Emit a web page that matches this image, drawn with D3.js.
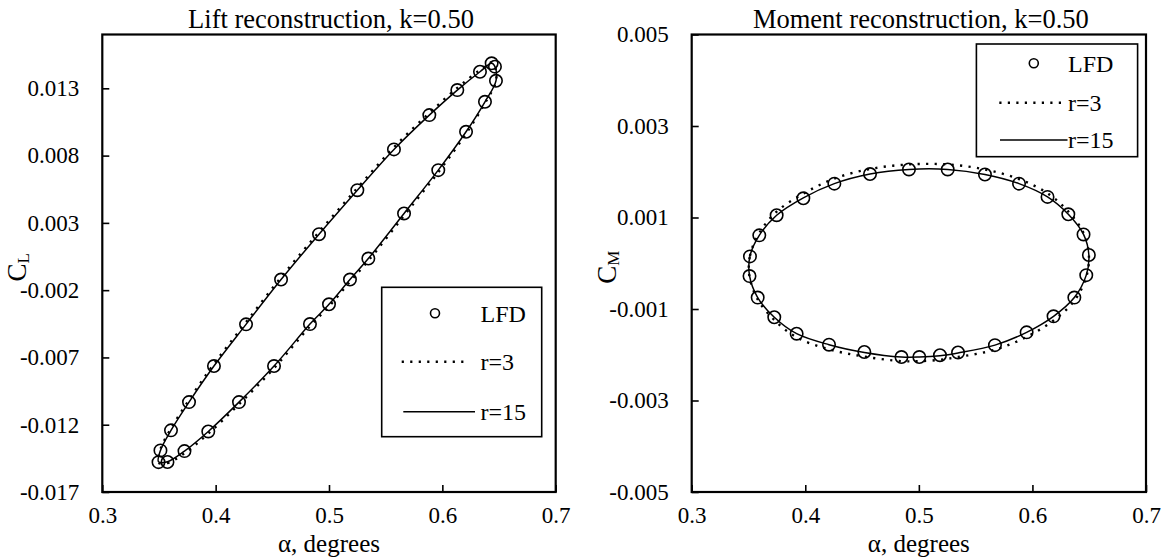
<!DOCTYPE html>
<html><head><meta charset="utf-8">
<script src="https://cdn.jsdelivr.net/npm/d3@7/dist/d3.min.js"></script>
<style>
body{margin:0;background:#fff}
text{font-family:"Liberation Serif","Times New Roman",serif;fill:#000}
</style>
</head><body>
<svg id="chart" width="1169" height="560"></svg>
<script>
// ---------- data ----------
const xTicks = [0.3, 0.4, 0.5, 0.6, 0.7];
const liftYTicks = [-0.017, -0.012, -0.007, -0.002, 0.003, 0.008, 0.013];
const momYTicks = [-0.005, -0.003, -0.001, 0.001, 0.003, 0.005];
const legendLabels = ["LFD", "r=3", "r=15"];

// Lift: angle of attack (deg) and CL
const liftAlpha = [0.3496,0.3575,0.3725,0.3935,0.4206,0.4515,0.4832,0.5000,0.5185,0.5347,0.5662,0.5964,0.6209,0.6376,0.6473,0.6464,0.6435,0.6332,0.6132,0.5885,0.5573,0.5250,0.4912,0.4577,0.4268,0.3985,0.3765,0.3606,0.3513];
const liftLFD = [-0.01478,-0.01477,-0.01396,-0.01250,-0.01032,-0.00764,-0.00452,-0.00305,-0.00121,0.00035,0.00370,0.00692,0.00977,0.01200,0.01356,0.01461,0.01486,0.01423,0.01287,0.01101,0.00846,0.00543,0.00216,-0.00121,-0.00454,-0.00764,-0.01032,-0.01242,-0.01391];
const liftR3 = [-0.01482,-0.01485,-0.01412,-0.01266,-0.01048,-0.00780,-0.00468,-0.00321,-0.00137,0.00019,0.00354,0.00676,0.00963,0.01190,0.01352,0.01462,0.01492,0.01437,0.01303,0.01117,0.00862,0.00559,0.00232,-0.00105,-0.00438,-0.00748,-0.01016,-0.01228,-0.01382];
const liftR15 = [-0.01476,-0.01475,-0.01396,-0.01250,-0.01032,-0.00764,-0.00452,-0.00305,-0.00121,0.00035,0.00370,0.00692,0.00977,0.01200,0.01356,0.01461,0.01486,0.01423,0.01287,0.01101,0.00846,0.00543,0.00216,-0.00121,-0.00454,-0.00764,-0.01032,-0.01242,-0.01391];

// Moment: angle of attack (deg) and CM
const momAlpha = [0.3509,0.3513,0.3595,0.3748,0.3983,0.4256,0.4570,0.4913,0.5254,0.5582,0.5882,0.6133,0.6316,0.6450,0.6497,0.6474,0.6369,0.6186,0.5949,0.5670,0.5345,0.5186,0.5004,0.4847,0.4520,0.4209,0.3924,0.3727,0.3581];
const momLFD = [-0.00028,0.00015,0.00061,0.00105,0.00142,0.00174,0.00195,0.00205,0.00205,0.00194,0.00174,0.00145,0.00107,0.00063,0.00018,-0.00026,-0.00075,-0.00116,-0.00151,-0.00179,-0.00195,-0.00201,-0.00205,-0.00205,-0.00194,-0.00178,-0.00154,-0.00118,-0.00075];
const momR3 = [-0.00030,0.00016,0.00066,0.00113,0.00152,0.00185,0.00206,0.00216,0.00216,0.00205,0.00184,0.00153,0.00113,0.00066,0.00018,-0.00030,-0.00082,-0.00125,-0.00161,-0.00189,-0.00205,-0.00211,-0.00214,-0.00214,-0.00204,-0.00188,-0.00162,-0.00124,-0.00079];
const momR15 = [-0.00027,0.00016,0.00061,0.00105,0.00143,0.00174,0.00195,0.00205,0.00205,0.00194,0.00174,0.00145,0.00107,0.00063,0.00018,-0.00026,-0.00075,-0.00116,-0.00151,-0.00179,-0.00196,-0.00202,-0.00205,-0.00205,-0.00195,-0.00178,-0.00154,-0.00118,-0.00075];

// ---------- drawing ----------
const svg = d3.select("#chart");
const TOP = 34.5, BOTTOM = 492;

function panel(opts){
  const x = d3.scaleLinear().domain([0.3, 0.7]).range([opts.left, opts.right]);
  const y = d3.scaleLinear().domain(opts.yDomain).range([BOTTOM, TOP]);
  const g = svg.append("g");

  // axes (inside ticks)
  const xa = g.append("g").attr("transform", `translate(0,${BOTTOM})`)
    .call(d3.axisBottom(x).tickValues(xTicks).tickSizeInner(-7).tickSizeOuter(0)
      .tickPadding(15).tickFormat(d => d.toFixed(1)));
  const ya = g.append("g").attr("transform", `translate(${opts.left},0)`)
    .call(d3.axisLeft(y).tickValues(opts.yTicks).tickSizeInner(-7).tickSizeOuter(0)
      .tickPadding(23).tickFormat(d => d.toFixed(3)));
  [xa, ya].forEach(a => {
    a.select(".domain").remove();
    a.selectAll(".tick line").attr("stroke", "#000").attr("stroke-width", 1.6);
    a.selectAll("text").style("font-size", "23px").attr("fill", "#000");
  });

  // frame
  g.append("rect").attr("x", opts.left).attr("y", TOP)
    .attr("width", opts.right - opts.left).attr("height", BOTTOM - TOP)
    .attr("fill", "none").attr("stroke", "#000").attr("stroke-width", 2.2);

  const line = d3.line().x(d => x(d[0])).y(d => y(d[1])).curve(d3.curveCatmullRomClosed.alpha(0.5));
  const pts = (ys) => opts.alpha.map((a, i) => [a, ys[i]]);

  g.append("path").attr("d", line(pts(opts.r3))).attr("fill", "none")
    .attr("stroke", "#000").attr("stroke-width", 2.4).attr("stroke-dasharray", "2.2,6.3");
  g.append("path").attr("d", line(pts(opts.r15))).attr("fill", "none")
    .attr("stroke", "#000").attr("stroke-width", 1.5);
  g.selectAll("circle.m").data(pts(opts.lfd)).join("circle").attr("class", "m")
    .attr("cx", d => x(d[0])).attr("cy", d => y(d[1])).attr("r", 6.2)
    .attr("fill", "none").attr("stroke", "#000").attr("stroke-width", 1.6);

  // title
  g.append("text").attr("x", (opts.left + opts.right) / 2 + 2).attr("y", 27.5)
    .attr("text-anchor", "middle").style("font-size", "26.5px").text(opts.title);
  // x label
  g.append("text").attr("x", (opts.left + opts.right) / 2).attr("y", 552)
    .attr("text-anchor", "middle").style("font-size", "25px").text("α, degrees");
  // y label with subscript
  const yl = g.append("text").attr("transform", `translate(${opts.left - 76},${(TOP + BOTTOM) / 2 + 4}) rotate(-90)`)
    .attr("text-anchor", "middle").style("font-size", "27px");
  yl.append("tspan").text("C");
  yl.append("tspan").attr("dy", 3).style("font-size", "17px").text(opts.sub);

  // legend
  const L = opts.legend;
  g.append("rect").attr("x", L.x).attr("y", L.y).attr("width", L.w).attr("height", L.h)
    .attr("fill", "#fff").attr("stroke", "#000").attr("stroke-width", 1.6);
  g.append("circle").attr("cx", L.cx).attr("cy", L.rows[0]).attr("r", 4.5)
    .attr("fill", "none").attr("stroke", "#000").attr("stroke-width", 1.6);
  g.append("line").attr("x1", L.l3[0]).attr("x2", L.l3[1]).attr("y1", L.rows[1]).attr("y2", L.rows[1])
    .attr("stroke", "#000").attr("stroke-width", 2.4).attr("stroke-dasharray", "2.2,6.3");
  g.append("line").attr("x1", L.l15[0]).attr("x2", L.l15[1]).attr("y1", L.rows[2]).attr("y2", L.rows[2])
    .attr("stroke", "#000").attr("stroke-width", 1.5);
  legendLabels.forEach((t, i) => {
    g.append("text").attr("x", L.tx).attr("y", L.rows[i]).attr("dy", "0.35em")
      .style("font-size", "24px").text(t);
  });
}

panel({
  left: 102.3, right: 555.7, yDomain: [-0.017, 0.017], yTicks: liftYTicks,
  alpha: liftAlpha, lfd: liftLFD, r3: liftR3, r15: liftR15,
  title: "Lift reconstruction, k=0.50", sub: "L",
  legend: {x: 381.7, y: 287.3, w: 160, h: 149.4, cx: 435, tx: 480.5,
           rows: [313.3, 361.7, 411.7], l3: [401.7, 466], l15: [403.3, 475]}
});
panel({
  left: 691.7, right: 1146, yDomain: [-0.005, 0.005], yTicks: momYTicks,
  alpha: momAlpha, lfd: momLFD, r3: momR3, r15: momR15,
  title: "Moment reconstruction, k=0.50", sub: "M",
  legend: {x: 976.4, y: 44, w: 161.2, h: 112.7, cx: 1033.8, tx: 1068,
           rows: [63.3, 102.7, 140], l3: [999.3, 1064.9], l15: [1000, 1067.5]}
});
</script>
</body></html>
